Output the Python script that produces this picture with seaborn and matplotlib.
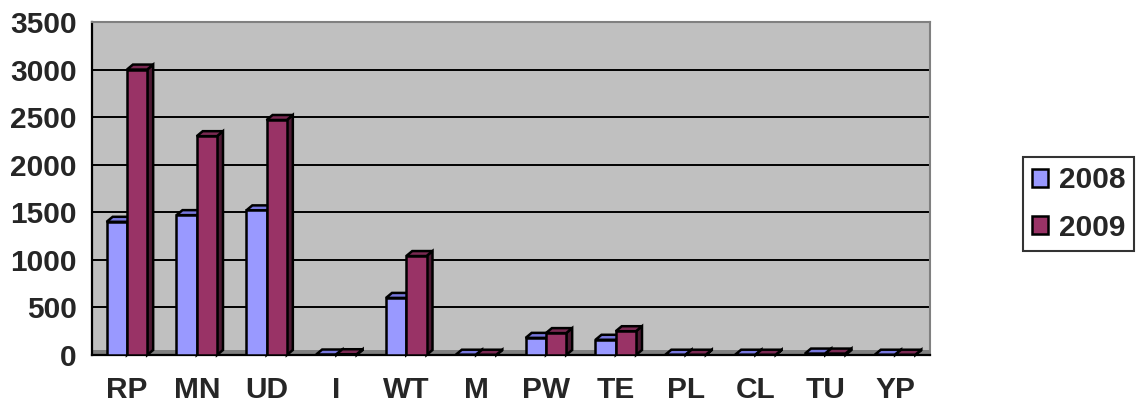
import matplotlib
matplotlib.use("Agg")
import matplotlib.pyplot as plt
import seaborn as sns
import pandas as pd
from matplotlib.patches import Polygon, Patch

categories = ["RP", "MN", "UD", "I", "WT", "M", "PW", "TE", "PL", "CL", "TU", "YP"]
values_2008 = [1400, 1470, 1520, 5, 600, 3, 180, 160, 3, 3, 15, 3]
values_2009 = [3000, 2300, 2470, 8, 1040, 3, 230, 250, 3, 3, 15, 3]
series = ["2008", "2009"]
yticks = [0, 500, 1000, 1500, 2000, 2500, 3000, 3500]

front = {"2008": "#9999FF", "2009": "#993366"}
top = {"2008": "#7777DD", "2009": "#7A2952"}
side = {"2008": "#4D4D80", "2009": "#4D1A33"}

df = pd.DataFrame({
    "cat": categories * 2,
    "year": ["2008"] * len(categories) + ["2009"] * len(categories),
    "val": values_2008 + values_2009,
})

sns.set_style("white")
plt.rcParams["font.family"] = ["Liberation Sans", "DejaVu Sans"]

FS = 21.5
LW = 1.8

fig = plt.figure(figsize=(11.41, 4.05), dpi=100)
ax = fig.add_axes([92 / 1141, 50 / 405, 838 / 1141, 333 / 405])
ax.set_facecolor("#C0C0C0")

sns.barplot(data=df, x="cat", y="val", hue="year", hue_order=series,
            palette=front, saturation=1, width=0.58, gap=0.0, edgecolor="black",
            linewidth=LW, legend=False, ax=ax, zorder=3)

ax.set_xlim(-0.5, len(categories) - 0.5)
ax.set_ylim(0, 3500)
ax.set_yticks(yticks)
ax.set_yticklabels([str(v) for v in yticks], fontsize=FS, fontweight="bold")
ax.set_xticks(range(len(categories)))
ax.set_xticklabels(categories, fontsize=FS, fontweight="bold")
ax.set_xlabel("")
ax.set_ylabel("")

# gridlines on the back wall
for v in yticks[1:-1]:
    ax.axhline(v, color="black", lw=1.4, zorder=1)

# pixel -> data conversion for the 3D depth faces
fig.canvas.draw()
inv = ax.transData.inverted()
x0, y0 = inv.transform((0, 0))
x1, y1 = inv.transform((6, 5))
dx, dy = x1 - x0, y1 - y0

# floor
ax.axhspan(0, dy, color="#808080", zorder=1.5, lw=0)

for i, (cont, yr) in enumerate(zip(ax.containers, series)):
    for rect in cont.patches:
        rect.set_zorder(3 + 2 * i)
        x = rect.get_x()
        w = rect.get_width()
        h = rect.get_height()
        side_poly = Polygon([(x + w, 0), (x + w, h), (x + w + dx, h + dy), (x + w + dx, dy)],
                            closed=True, facecolor=side[yr], edgecolor="black",
                            lw=LW, zorder=2 + 2 * i, clip_on=False)
        top_poly = Polygon([(x, h), (x + w, h), (x + w + dx, h + dy), (x + dx, h + dy)],
                           closed=True, facecolor=top[yr], edgecolor="black",
                           lw=LW, zorder=2 + 2 * i, clip_on=False)
        ax.add_patch(side_poly)
        ax.add_patch(top_poly)

# spines / ticks
for s in ["top", "right"]:
    ax.spines[s].set_color("#808080")
    ax.spines[s].set_linewidth(1.5)
ax.spines["left"].set_color("black")
ax.spines["bottom"].set_color("black")
ax.spines["left"].set_linewidth(1.6)
ax.spines["bottom"].set_linewidth(1.6)
ax.tick_params(axis="y", direction="out", length=5, width=1.5, color="black", pad=6)
ax.tick_params(axis="x", length=0, pad=15)
# category boundary ticks
ax.set_xticks([k - 0.5 for k in range(len(categories) + 1)], minor=True)
ax.tick_params(axis="x", which="minor", direction="out", length=6, width=1.5, color="black")

handles = [Patch(facecolor=front[s], edgecolor="black", lw=LW, label=s) for s in series]
leg = fig.legend(handles=handles, loc="center left", bbox_to_anchor=(1023 / 1141, 1 - 204 / 405),
                 prop={"size": FS, "weight": "bold"}, frameon=True, fancybox=False,
                 edgecolor="black", handlelength=0.55, handleheight=0.55, handletextpad=0.35,
                 labelspacing=0.65, borderpad=0.3, borderaxespad=0)
leg.get_frame().set_linewidth(1.5)

fig.savefig("out.png", dpi=100)
